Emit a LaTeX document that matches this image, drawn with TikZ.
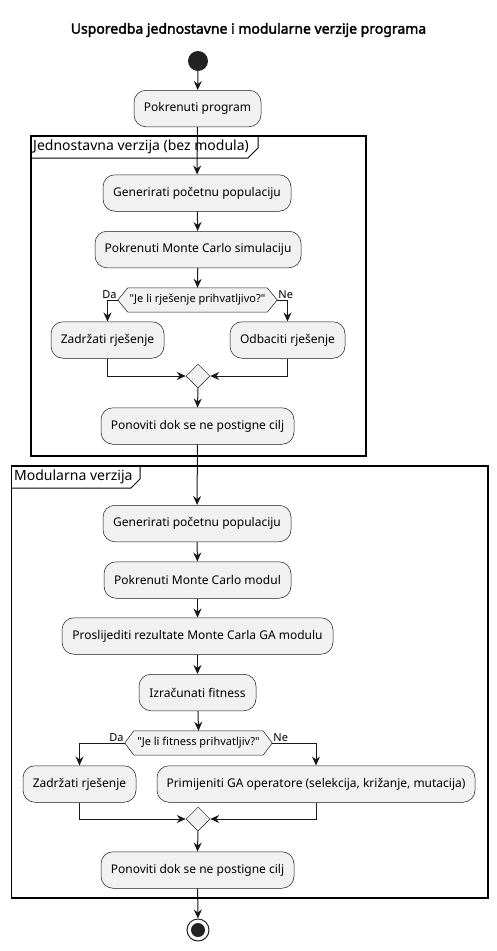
\documentclass[tikz,border=0pt]{standalone}
\usepackage{fontspec}
\setmainfont{Noto Sans}
\newfontfamily\titlefont{Noto Sans}[FakeBold=2.2]
\usetikzlibrary{arrows.meta,shapes.geometric,calc}
\definecolor{ln}{HTML}{181818}
\definecolor{bx}{HTML}{F1F1F1}
\definecolor{st}{HTML}{222222}
\newcommand{\dq}{\XeTeXglyph\XeTeXcharglyph"22\relax}
\tikzset{
  act/.style={draw=ln, fill=bx, line width=0.5pt, rounded corners=12pt, minimum height=36.5pt, inner sep=0pt, font=\fontsize{12}{14}\selectfont, text=black},
  diam/.style={minimum height=24pt, inner sep=0pt, font=\fontsize{11}{13}\selectfont},
  hexa/.style={draw=ln, fill=bx, line width=0.5pt},
  mrg/.style={diamond, draw=ln, fill=bx, line width=0.5pt, minimum width=24pt, minimum height=24pt, inner sep=0pt},
  flow/.style={draw=ln, line width=1pt, -{Stealth[length=9pt,width=8pt,inset=3pt]}},
  frm/.style={draw=black, line width=1.5pt},
  frlab/.style={font=\fontsize{14}{16}\selectfont, anchor=west, inner sep=0pt},
  brlab/.style={font=\fontsize{11}{13}\selectfont, inner sep=1pt}
}
\begin{document}
\begin{tikzpicture}[x=1pt,y=-1pt]
\path[use as bounding box] (0,0) rectangle (497,951);

\node[font=\fontsize{14}{16}\selectfont\titlefont] (title) at (248.5,30) {Usporedba jednostavne i modularne verzije programa};

\node[circle, fill=st, minimum size=20pt, inner sep=0pt] (start) at (198,61) {};
\node[act, minimum width=127pt] (pp) at (197.5,108.5) {Pokrenuti program};

% Frame 1
\draw[frm] (31,136) rectangle (366,456);
\draw[frm, line width=1pt] (31,158) -- (248,158) -- (258,148) -- (258,136);
\node[frlab] (f1) at (33,147) {Jednostavna verzija (bez modula)};

\node[act, minimum width=188pt] (g1) at (197,193) {Generirati početnu populaciju};
\node[act, minimum width=206pt] (m1) at (198,249.5) {Pokrenuti Monte Carlo simulaciju};
\node[diam, minimum width=159pt] (d1) at (197.5,300) {};
\draw[hexa] (d1.west) -- ($(d1.north west)+(10,0)$) -- ($(d1.north east)+(-10,0)$) -- (d1.east) -- ($(d1.south east)+(-10,0)$) -- ($(d1.south west)+(10,0)$) -- cycle;
\node[diam] (d1t) at (d1.center) {\dq Je li rješenje prihvatljivo?\dq};
\node[act, minimum width=113pt] (z1) at (107.5,340) {Zadržati rješenje};
\node[act, minimum width=115pt] (o1) at (287.5,340) {Odbaciti rješenje};
\node[mrg] (mg1) at (198,376) {};
\node[act, minimum width=193pt] (p1) at (197.5,426) {Ponoviti dok se ne postigne cilj};

% Frame 2
\draw[frm] (11.5,466) rectangle (488,898);
\draw[frm, line width=1pt] (11.5,488) -- (131,488) -- (140,479) -- (140,466);
\node[frlab] (f2) at (14,477) {Modularna verzija};

\node[act, minimum width=188pt] (g2) at (197,523.5) {Generirati početnu populaciju};
\node[act, minimum width=187pt] (mc2) at (197.5,580) {Pokrenuti Monte Carlo modul};
\node[act, minimum width=271pt] (pr2) at (197.5,636) {Proslijediti rezultate Monte Carla GA modulu};
\node[act, minimum width=117pt] (iz2) at (197.5,692.5) {Izračunati fitness};
\node[diam, minimum width=147pt] (d2) at (198.5,743) {};
\draw[hexa] (d2.west) -- ($(d2.north west)+(9,0)$) -- ($(d2.north east)+(-9,0)$) -- (d2.east) -- ($(d2.south east)+(-9,0)$) -- ($(d2.south west)+(9,0)$) -- cycle;
\node[diam] (d2t) at (d2.center) {\dq Je li fitness prihvatljiv?\dq};
\node[act, minimum width=113pt] (z2) at (79.5,784) {Zadržati rješenje};
\node[act, minimum width=318pt] (pg2) at (316,784) {Primijeniti GA operatore (selekcija, križanje, mutacija)};
\node[mrg] (mg2) at (198,819) {};
\node[act, minimum width=193pt] (p2) at (197.5,870) {Ponoviti dok se ne postigne cilj};

\node[circle, draw=st, line width=1pt, fill=white, minimum size=22pt, inner sep=0pt] (end) at (198,930) {};
\node[circle, fill=st, minimum size=14pt, inner sep=0pt] (endi) at (end.center) {};

% connectors
\draw[flow] (start) -- (pp);
\draw[flow] (pp) -- (g1);
\draw[flow] (g1) -- (m1);
\draw[flow] (m1) -- (d1.north);
\draw[flow] (d1.west) -| (z1.north);
\draw[flow] (d1.east) -| (o1.north);
\node[brlab, anchor=south east] (da1) at (d1.west) {Da};
\node[brlab, anchor=south west] (ne1) at (d1.east) {Ne};
\draw[flow] (z1.south) |- (mg1.west);
\draw[flow] (o1.south) |- (mg1.east);
\draw[flow] (mg1.south) -- (p1.north);
\draw[flow] (p1) -- (g2);
\draw[flow] (g2) -- (mc2);
\draw[flow] (mc2) -- (pr2);
\draw[flow] (pr2) -- (iz2);
\draw[flow] (iz2) -- (d2.north);
\draw[flow] (d2.west) -| (z2.north);
\draw[flow] (d2.east) -| (pg2.north);
\node[brlab, anchor=south east] (da2) at (d2.west) {Da};
\node[brlab, anchor=south west] (ne2) at (d2.east) {Ne};
\draw[flow] (z2.south) |- (mg2.west);
\draw[flow] (pg2.south) |- (mg2.east);
\draw[flow] (mg2.south) -- (p2.north);
\draw[flow] (p2) -- (end);
\end{tikzpicture}
\end{document}
